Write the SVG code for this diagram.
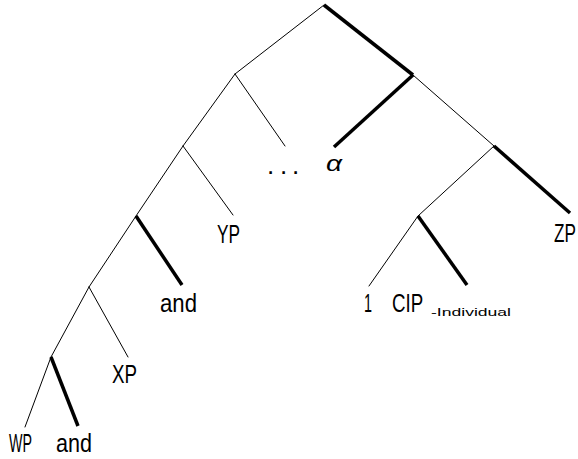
<svg xmlns="http://www.w3.org/2000/svg" width="578" height="459" viewBox="0 0 578 459">
<style>
.thin{stroke:#000;stroke-width:1;fill:none;stroke-linecap:round}
.thick{stroke:#000;stroke-width:3.5;fill:none;stroke-linecap:butt}
text{font-family:"Liberation Sans",Arial,sans-serif;fill:#000}
.lbl{font-size:26px}
.sub{font-size:10px}
</style>
<rect width="578" height="459" fill="#fff"/>
<g id="connectors">
<line class="thin" x1="324" y1="5" x2="235" y2="74"/>
<line class="thick" x1="324" y1="5" x2="413" y2="75"/>
<line class="thin" x1="413" y1="75" x2="494" y2="146"/>
<line class="thick" x1="413" y1="75" x2="334" y2="147"/>
<line class="thin" x1="235" y1="74" x2="285" y2="146"/>
<line class="thin" x1="235" y1="74" x2="183" y2="146"/>
<line class="thin" x1="183" y1="146" x2="233" y2="215"/>
<line class="thin" x1="183" y1="146" x2="136" y2="216"/>
<line class="thick" x1="136" y1="216" x2="182" y2="285"/>
<line class="thin" x1="136" y1="216" x2="89" y2="287"/>
<line class="thin" x1="89" y1="287" x2="128" y2="357"/>
<line class="thin" x1="89" y1="287" x2="51" y2="357"/>
<line class="thick" x1="51" y1="357" x2="78" y2="426"/>
<line class="thin" x1="51" y1="357" x2="25" y2="427"/>
<line class="thick" x1="494" y1="146" x2="570" y2="213"/>
<line class="thin" x1="494" y1="146" x2="418" y2="216"/>
<line class="thick" x1="418" y1="216" x2="467" y2="285"/>
<line class="thin" x1="418" y1="216" x2="369" y2="286"/>
</g>
<g id="WP"><text class="lbl" x="9" y="452" textLength="23" lengthAdjust="spacingAndGlyphs">WP</text></g>
<g id="and1"><text class="lbl" x="56" y="452" textLength="36" lengthAdjust="spacingAndGlyphs">and</text></g>
<g id="XP"><text class="lbl" x="112" y="383" textLength="25" lengthAdjust="spacingAndGlyphs">XP</text></g>
<g id="and2"><text class="lbl" x="160" y="312" textLength="37" lengthAdjust="spacingAndGlyphs">and</text></g>
<g id="YP"><text class="lbl" x="217" y="243" textLength="23" lengthAdjust="spacingAndGlyphs">YP</text></g>
<g id="dots"><text class="lbl" x="267 280 292" y="174">...</text></g>
<g id="alpha"><text x="326" y="171" font-size="22" font-style="italic" textLength="16" lengthAdjust="spacingAndGlyphs">α</text></g>
<g id="ZP"><text class="lbl" transform="translate(554,242) scale(0.66,1)" x="0" y="0">ZP</text></g>
<g id="CIP"><text class="lbl" x="364" y="312" textLength="8" lengthAdjust="spacingAndGlyphs">1</text><text class="lbl" transform="translate(392,312) scale(0.72,1)" x="0" y="0">CIP</text><text class="sub" x="431" y="316" textLength="80" lengthAdjust="spacingAndGlyphs">-Individual</text></g>
</svg>
